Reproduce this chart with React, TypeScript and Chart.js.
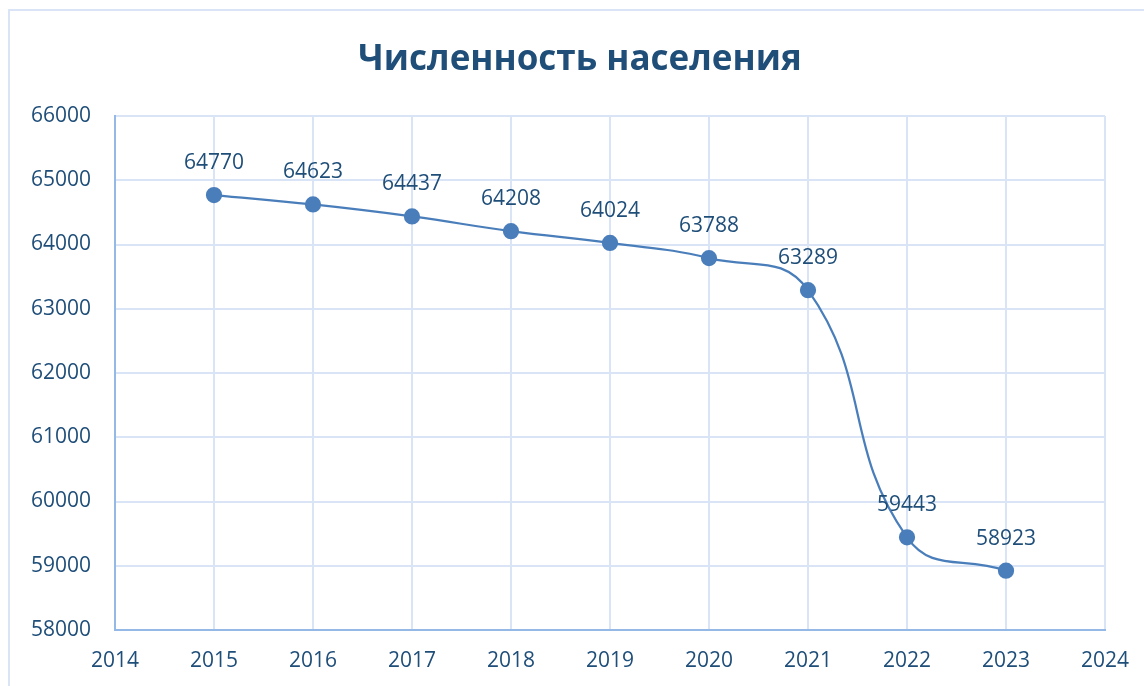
import React, { useEffect, useRef } from "react";
import { Chart, registerables } from "chart.js";

Chart.register(...registerables);

const title = "Численность населения";
const years = [2015, 2016, 2017, 2018, 2019, 2020, 2021, 2022, 2023];
const population = [64770, 64623, 64437, 64208, 64024, 63788, 63289, 59443, 58923];
const xMin = 2014;
const xMax = 2024;
const yMin = 58000;
const yMax = 66000;
const yStep = 1000;

const TEXT = "#1f4e79";
const LINE = "#4a7ebb";
const GRID = "#d9e5f6";
const AXIS = "#95b9e6";
const FONT = "'Open Sans', 'Noto Sans', sans-serif";

const overlay = {
  id: "overlay",
  afterDatasetsDraw(chart: any) {
    const ctx = chart.ctx;
    const meta = chart.getDatasetMeta(0);
    ctx.save();
    ctx.fillStyle = TEXT;
    ctx.font = `21px ${FONT}`;
    ctx.textAlign = "center";
    ctx.textBaseline = "middle";
    meta.data.forEach((pt: any, i: number) => {
      ctx.fillText(String(population[i]), pt.x, pt.y - 32);
    });
    ctx.font = `bold 35px ${FONT}`;
    ctx.fillText(title, 580, 60);
    ctx.restore();
  },
};

export default function App() {
  const ref = useRef<HTMLCanvasElement | null>(null);
  useEffect(() => {
    if (!ref.current) return;
    const chart = new Chart(ref.current, {
      type: "line",
      data: {
        datasets: [
          {
            data: years.map((y, i) => ({ x: y, y: population[i] })),
            borderColor: LINE,
            backgroundColor: LINE,
            borderWidth: 2.25,
            pointRadius: 7,
            pointHoverRadius: 7,
            pointBackgroundColor: LINE,
            pointBorderColor: LINE,
            tension: 0.45,
            fill: false,
          },
        ],
      },
      options: {
        responsive: false,
        animation: false,
        events: [],
        layout: { padding: { left: 0, right: 39, top: 116, bottom: 0 } },
        plugins: { legend: { display: false }, title: { display: false }, tooltip: { enabled: false } },
        scales: {
          x: {
            type: "linear",
            min: xMin,
            max: xMax,
            ticks: { stepSize: 1, color: TEXT, font: { family: FONT, size: 21 }, padding: 18, callback: (v: any) => String(v) },
            grid: { color: GRID, lineWidth: 2, drawTicks: false },
            border: { color: AXIS, width: 2 },
            afterFit: (s: any) => { s.height = 56; s.paddingLeft = 0; s.paddingRight = 0; },
          },
          y: {
            min: yMin,
            max: yMax,
            ticks: { stepSize: yStep, color: TEXT, font: { family: FONT, size: 21 }, padding: 24, callback: (v: any) => String(v) },
            grid: { color: GRID, lineWidth: 2, drawTicks: false },
            border: { color: AXIS, width: 2 },
            afterFit: (s: any) => { s.width = 115; s.paddingTop = 0; s.paddingBottom = 0; },
          },
        },
      },
      plugins: [overlay],
    });
    return () => chart.destroy();
  }, []);
  return (
    <div style={{ position: "fixed", left: 0, top: 0, width: 1144, height: 686, overflow: "hidden", background: "#fff" }}>
      <div style={{ position: "absolute", left: 8, top: 9, width: 1200, height: 720, border: `2px solid ${GRID}` }} />
      <canvas ref={ref} width={1144} height={686} style={{ position: "absolute", left: 0, top: 0 }} />
    </div>
  );
}
